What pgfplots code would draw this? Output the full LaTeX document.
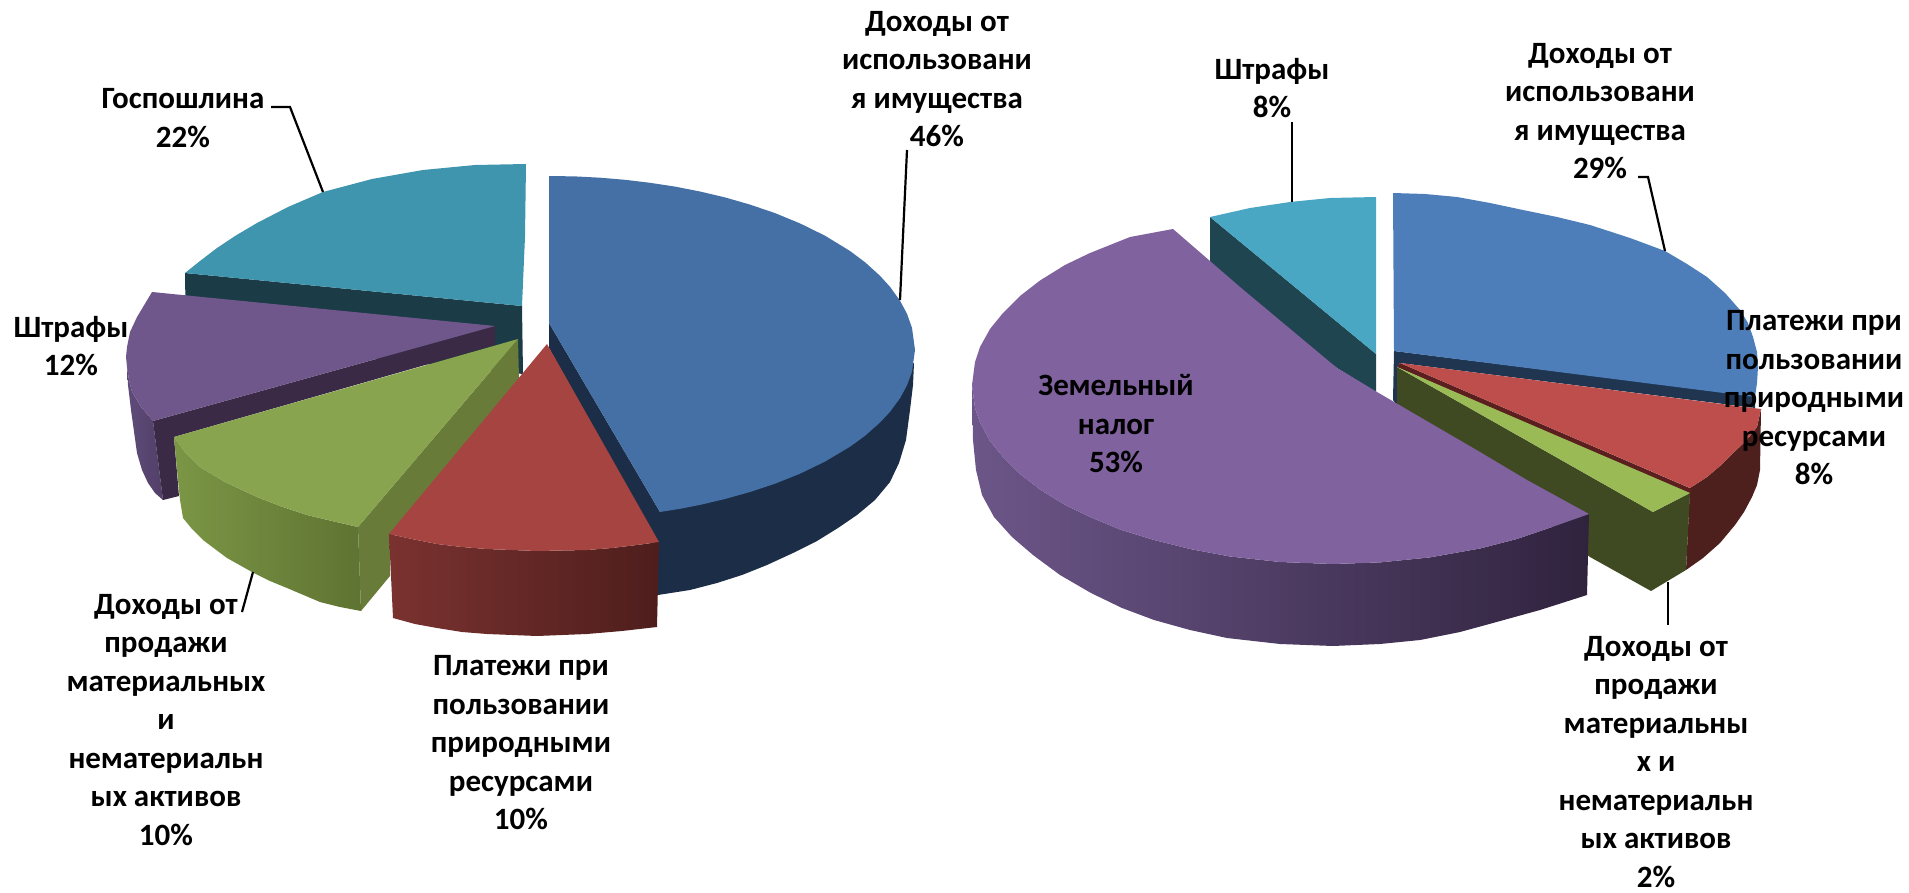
\documentclass[border=0pt]{standalone}
\usepackage{fontspec}
\setmainfont{Carlito}
\usepackage{pgfplots}
\pgfplotsset{compat=1.18}
\definecolor{bluetop}{HTML}{4570A6}
\definecolor{bluewall}{HTML}{1C2E47}
\definecolor{redtop}{HTML}{A64442}
\definecolor{redwallL}{HTML}{7A3230}
\definecolor{redwallR}{HTML}{4E1E1C}
\definecolor{greentop}{HTML}{88A44E}
\definecolor{greencut}{HTML}{687B38}
\definecolor{greenwallL}{HTML}{7B9645}
\definecolor{greenwallR}{HTML}{5F7332}
\definecolor{purptop}{HTML}{70578B}
\definecolor{purpcut}{HTML}{3B2A46}
\definecolor{purpwall}{HTML}{5F4B7A}
\definecolor{tealtop}{HTML}{3F95AE}
\definecolor{tealwall}{HTML}{1B3B47}
% right pie
\definecolor{Rbluetop}{HTML}{4D7EBA}
\definecolor{Rbluewall}{HTML}{1F3550}
\definecolor{Rredtop}{HTML}{BE4E4B}
\definecolor{Rredcut}{HTML}{5A1F1E}
\definecolor{Rredwall}{HTML}{4D1F1D}
\definecolor{Rgreentop}{HTML}{9ABA56}
\definecolor{Rgreenwall}{HTML}{3F4A22}
\definecolor{Rpurptop}{HTML}{7F629E}
\definecolor{RpurpL}{HTML}{6C5689}
\definecolor{RpurpM}{HTML}{564067}
\definecolor{RpurpR}{HTML}{30233E}
\definecolor{Rtealtop}{HTML}{4AA7C3}
\definecolor{Rtealwall}{HTML}{1F4550}
\tikzset{lbl/.style={align=center,inner sep=0pt,font=\bfseries\fontsize{31}{38.5}\selectfont}}
\pgfplotsset{lead/.style={black,line width=2.2pt}}
\begin{document}
\begin{tikzpicture}
\begin{axis}[
    width=1909pt, height=893pt, scale only axis,
    xmin=0, xmax=1909, ymin=0, ymax=893,
    y dir=reverse, hide axis, clip=false,
]
% ---- left pie ----
% teal
\addplot[fill=tealwall,draw=none] coordinates {(185,273)(522,306)(523,374)(186,340)};
\addplot[fill=tealtop,draw=none] coordinates {(526,164)(525,237)(522,306)(185,273)(200,261)(217,248)(235,236)(257,223)(288,207)(323,192)(372,179)(423,170)(475,165)};
% purple
\addplot[left color=purpwall,right color=purpwall!85!black,draw=none] coordinates {(127,367)(129,380)(132,392)(141,407)(153,421)(163,500)(155,493)(148,483)(142,470)(137,453)(131,410)(128,385)};
\addplot[fill=purpcut,draw=none] coordinates {(153,421)(495,326)(495,345)(174,437)(179,496)(163,500)};
\addplot[fill=purptop,draw=none] coordinates {(495,326)(152,292)(137,317)(130,332)(127,347)(126,357)(127,367)(129,380)(132,392)(141,407)(153,421)};
% green
\addplot[left color=greenwallL,right color=greenwallR,draw=none] coordinates {(174,437)(185,452)(200,467)(225,482)(257,497)(280,506)(307,515)(332,521)(358,527)(361,611)(340,607)(320,602)(287,588)(270,581)(252,572)(227,558)(215,549)(203,540)(192,529)(183,518)(180,500)(177,470)};
\addplot[fill=greencut,draw=none] coordinates {(358,527)(518,339)(519,378)(390,540)(390,576)(361,611)};
\addplot[fill=greentop,draw=none] coordinates {(518,339)(358,527)(332,521)(307,515)(280,506)(257,497)(225,482)(200,467)(185,452)(174,437)};
% blue
\addplot[fill=bluewall,draw=none] coordinates {(549,323)(660,512)(914,363)(913,385)(910,410)(906,440)(899,463)(890,482)(875,500)(857,515)(838,528)(817,541)(793,553)(767,565)(742,575)(717,583)(690,590)(658,595)(650,530)(549,348)};
\addplot[fill=bluetop,draw=none] coordinates {(549,323)(549,176)(575,176.4)(600,177.7)(625,179.8)(650,182.8)(675,186.6)(700,191.5)(725,197.4)(750,204.6)(775,213.1)(800,223.4)(825,235.7)(850,251)(865,262.2)(880,275.8)(890,286.8)(900,300.7)(907,313.8)(912,327.8)(915,350)(912,371.7)(907,385.3)(900,398.2)(890,411.8)(880,422.5)(865,435.8)(850,446.7)(825,461.6)(800,473.7)(775,483.7)(750,492)(725,499)(700,504.9)(680,508.8)(660,512)};
% red
\addplot[left color=redwallL,right color=redwallR,draw=none] coordinates {(389,534)(412,539)(437,544)(462,547)(487,549)(537,551)(587,550)(612,548)(637,545)(659,542)(657,627)(622,631)(587,634)(537,636)(487,634)(462,632)(437,628)(415,624)(393,618)};
\addplot[fill=redtop,draw=none] coordinates {(547,344)(659,542)(637,545)(612,548)(587,550)(537,551)(487,549)(462,547)(437,544)(412,539)(389,534)};
% ---- right pie ----
% teal
\addplot[fill=Rtealwall,draw=none] coordinates {(1210,217)(1376,354)(1376,392)(1337,368)(1210,275)};
\addplot[fill=Rtealtop,draw=none] coordinates {(1376,197)(1330,198)(1290,202)(1250,208)(1210,217)(1376,354)};
% blue
\addplot[fill=Rbluewall,draw=none] coordinates {(1394,351)(1755,396)(1755,408)(1400,363)(1397,367)(1397,405)(1393,400)};
\addplot[fill=Rbluetop,draw=none] coordinates {(1393,193)(1425,194)(1457,197)(1490,203)(1523,210)(1557,217)(1590,225)(1630,238)(1665,251)(1687,264)(1707,277)(1725,293)(1740,310)(1748,323)(1753,337)(1757,352)(1758,367)(1757,383)(1755,397)(1394,351)};
% red
\addplot[fill=Rredwall,draw=none] coordinates {(1690,488)(1707,477)(1720,466)(1733,453)(1746,441)(1757,427)(1761,409)(1760,470)(1757,485)(1752,497)(1744,512)(1735,525)(1720,543)(1703,558)(1686,570)};
\addplot[fill=Rredcut,draw=none] coordinates {(1400,363)(1692,489)(1690,495)(1397,367)};
\addplot[fill=Rredtop,draw=none] coordinates {(1400,363)(1761,409)(1757,427)(1746,441)(1733,453)(1720,466)(1707,477)(1690,488)};
% green
\addplot[fill=Rgreenwall,draw=none] coordinates {(1397,367)(1653,512)(1690,493)(1686,570)(1651,591)(1590,557)(1397,405)};
\addplot[fill=Rgreentop,draw=none] coordinates {(1397,367)(1690,493)(1653,512)};
% purple
\addplot[left color=RpurpL,middle color=RpurpM,right color=RpurpR,draw=none] coordinates {(972,385)(975,408)(980,422.6)(990,441)(1003,457)(1020,474)(1040,489.5)(1065,505)(1090,517)(1120,529.5)(1154,540)(1190,549)(1230,556.5)(1280,562)(1333,564)(1380,562.4)(1430,557.4)(1480,548.5)(1517,539)(1555,526)(1589,514)(1587,595)(1540,610)(1493,623)(1460,632)(1420,640)(1380,644)(1333,646)(1280,644)(1227,638)(1190,630)(1154,620)(1122,608)(1091,593)(1060,575)(1033,555)(1012,537)(994,517)(982,495)(976,470)(973,440)};
\addplot[fill=Rpurptop,draw=none] coordinates {(1173,229)(1240,287)(1337,368)(1377,392)(1480,452)(1527,480)(1589,514)(1555,526)(1517,539)(1480,548.5)(1430,557.4)(1380,562.4)(1333,564)(1280,562)(1230,556.5)(1190,549)(1154,540)(1120,529.5)(1090,517)(1065,505)(1040,489.5)(1020,474)(1003,457)(990,441)(980,422.6)(975,408)(972,385)(975,362)(980,347)(990,329)(1003,313)(1020,296)(1040,280.5)(1065,265)(1090,253)(1130,237)};
% ---- leader lines ----
\addplot[lead] coordinates {(907,150)(900,300)};
\addplot[lead] coordinates {(271,107)(290,107)(323,192)};
\addplot[lead] coordinates {(253,572)(242,612)};
\addplot[lead] coordinates {(1292,122)(1292,202)};
\addplot[lead] coordinates {(1638,177)(1648,177)(1665,251)};
\addplot[lead] coordinates {(1668,582)(1668,625)};
% ---- labels ----
\node[lbl] at (axis cs:937,79) {Доходы от\\использовани\\я имущества\\46\%};
\node[lbl] at (axis cs:183,118) {Госпошлина\\22\%};
\node[lbl] at (axis cs:71,346) {Штрафы\\12\%};
\node[lbl] at (axis cs:166,720) {Доходы от\\продажи\\материальных\\и\\нематериальн\\ых активов\\10\%};
\node[lbl] at (axis cs:521,743) {Платежи при\\пользовании\\природными\\ресурсами\\10\%};
\node[lbl] at (axis cs:1272,88) {Штрафы\\8\%};
\node[lbl] at (axis cs:1600,111) {Доходы от\\использовани\\я имущества\\29\%};
\node[lbl] at (axis cs:1814,398) {Платежи при\\пользовании\\природными\\ресурсами\\8\%};
\node[lbl] at (axis cs:1116,424) {Земельный\\налог\\53\%};
\node[lbl] at (axis cs:1656,762) {Доходы от\\продажи\\материальны\\х и\\нематериальн\\ых активов\\2\%};
\end{axis}
\pgfresetboundingbox
\path (0,0) rectangle (1909pt,893pt);
\end{tikzpicture}
\end{document}
